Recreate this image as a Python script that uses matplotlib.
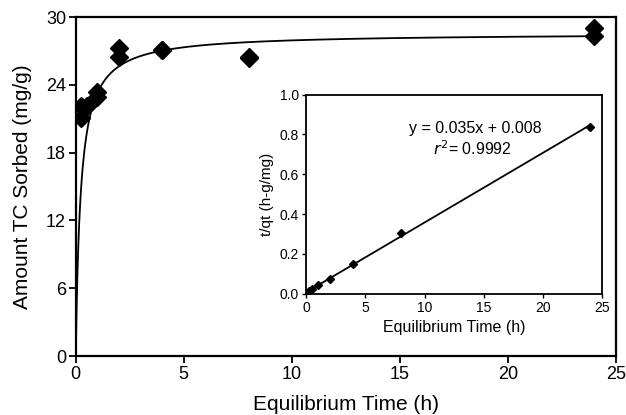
import numpy as np
import matplotlib
matplotlib.use('Agg')
import matplotlib.pyplot as plt

plt.rcParams['font.family'] = ['Liberation Sans', 'DejaVu Sans']

# kinetic data (two replicates per time)
t_main = [0.25, 0.25, 0.5, 0.5, 1, 1, 2, 2, 4, 4, 8, 8, 24, 24]
q_main = [22.1, 21.1, 22.1, 22.1, 23.4, 22.9, 27.3, 26.5, 27.1, 27.1, 26.4, 26.5, 29.0, 28.3]

# inset: pseudo-second-order linear plot
t_inset = [0.25, 0.5, 1, 2, 4, 8, 24]
tq_inset = [0.012, 0.023, 0.043, 0.075, 0.148, 0.303, 0.835]

# fitted parameters shown on the chart
slope = 0.035
intercept = 0.008

fig = plt.figure(figsize=(6.26, 4.15), dpi=100)
ax = fig.add_axes([0.121, 0.142, 0.863, 0.817])

tt = np.linspace(0.0, 24, 600)
ax.plot(tt, tt / (intercept + slope * tt), color='black', lw=1.3)
ax.plot(t_main, q_main, 'D', color='black', ms=9, ls='none')

ax.set_xlim(0, 25)
ax.set_ylim(0, 30)
ax.set_xticks([0, 5, 10, 15, 20, 25])
ax.set_yticks([0, 6, 12, 18, 24, 30])
ax.tick_params(direction='out', length=5, width=1.3, labelsize=13, pad=2)
ax.tick_params(top=False, right=False)
for s in ax.spines.values():
    s.set_linewidth(1.6)
ax.set_xlabel('Equilibrium Time (h)', fontsize=15, labelpad=9)
ax.set_ylabel('Amount TC Sorbed (mg/g)', fontsize=15, labelpad=10)

ins = fig.add_axes([0.489, 0.292, 0.473, 0.480])
xl = np.array([0, 24])
ins.plot(xl, slope * xl + intercept, color='black', lw=1.3)
ins.plot(t_inset, tq_inset, 'D', color='black', ms=4.5, ls='none')
ins.set_xlim(0, 25)
ins.set_ylim(0, 1.0)
ins.set_xticks([0, 5, 10, 15, 20, 25])
ins.set_yticks([0.0, 0.2, 0.4, 0.6, 0.8, 1.0])
ins.yaxis.set_major_formatter(matplotlib.ticker.FormatStrFormatter('%.1f'))
ins.tick_params(direction='out', length=3, width=1, labelsize=10, pad=2)
for s in ins.spines.values():
    s.set_linewidth(1.3)
ins.set_xlabel('Equilibrium Time (h)', fontsize=11.5, labelpad=4)
ins.set_ylabel('t/qt (h-g/mg)', fontsize=11, labelpad=4)
ins.text(0.57, 0.83, 'y = 0.035x + 0.008', transform=ins.transAxes,
         ha='center', va='center', fontsize=11.5)
ins.text(0.56, 0.73, r'$\mathit{r}^{2}$= 0.9992', transform=ins.transAxes,
         ha='center', va='center', fontsize=11.5)

fig.savefig('out.png', dpi=100)
